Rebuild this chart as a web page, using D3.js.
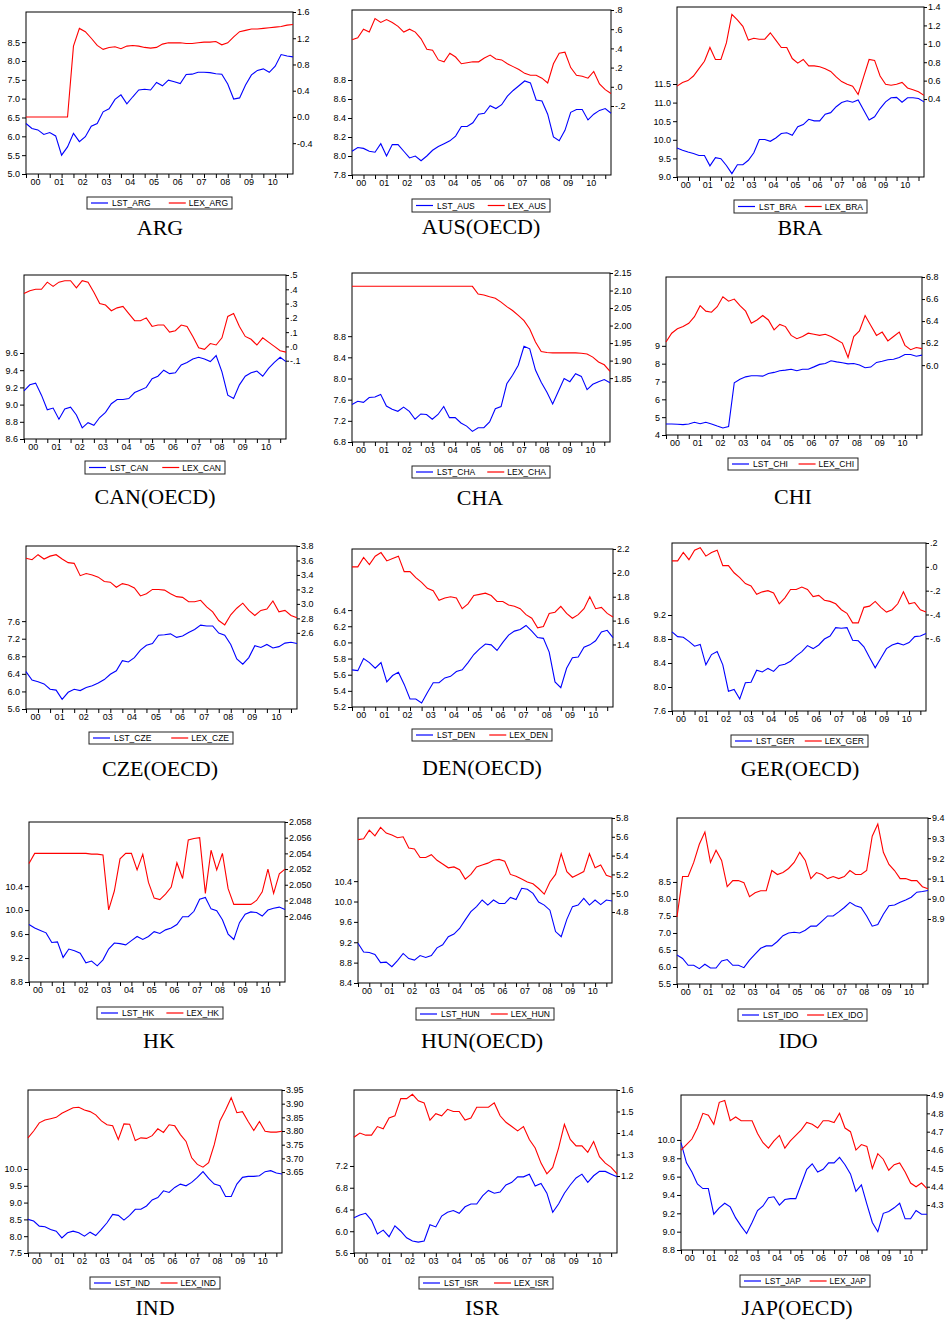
<!DOCTYPE html>
<html>
<head>
<meta charset="utf-8">
<script src="https://cdnjs.cloudflare.com/ajax/libs/d3/7.8.5/d3.min.js"></script>
<style>
  body { margin: 0; background: #fff; }
  svg { display: block; }
  .tick text { font-family: "Liberation Sans", Arial, sans-serif; font-size: 9px; fill: #000; }
</style>
</head>
<body>
<svg id="chart" width="947" height="1322"></svg>
<script>
// quarterly data, 2000Q1 .. 2011Q2
const years = ["00", "01", "02", "03", "04", "05", "06", "07", "08", "09", "10"];

const lstARG = [6.34,6.21,6.17,6.05,6.10,6.01,5.50,5.72,6.08,5.86,5.99,6.27,6.34,6.65,6.73,6.98,7.10,6.86,7.05,7.23,7.25,7.23,7.43,7.34,7.49,7.45,7.40,7.64,7.65,7.70,7.70,7.69,7.66,7.65,7.39,6.99,7.02,7.36,7.63,7.75,7.79,7.70,7.86,8.17,8.13,8.11];
const lexARG = [0,0,0,0,0,0,0,0,1.08,1.35,1.30,1.20,1.09,1.03,1.06,1.07,1.04,1.08,1.09,1.08,1.06,1.05,1.06,1.11,1.13,1.13,1.13,1.12,1.12,1.13,1.14,1.14,1.15,1.10,1.13,1.22,1.30,1.32,1.34,1.34,1.35,1.36,1.37,1.38,1.40,1.41];

const lstAUS = [8.05,8.09,8.08,8.05,8.04,8.13,8.00,8.12,8.12,8.05,7.98,8.00,7.95,8.00,8.06,8.10,8.13,8.16,8.21,8.31,8.31,8.35,8.44,8.45,8.53,8.50,8.54,8.63,8.69,8.74,8.79,8.77,8.59,8.58,8.44,8.20,8.16,8.27,8.46,8.49,8.49,8.38,8.44,8.48,8.50,8.45];
const lexAUS = [0.49,0.51,0.60,0.57,0.71,0.67,0.70,0.67,0.63,0.57,0.60,0.57,0.50,0.39,0.38,0.28,0.26,0.35,0.31,0.24,0.25,0.26,0.26,0.30,0.33,0.29,0.28,0.24,0.21,0.18,0.14,0.12,0.12,0.09,0.04,0.24,0.35,0.36,0.20,0.12,0.11,0.09,0.16,0.03,-0.03,-0.07];

const lstBRA = [9.78,9.72,9.67,9.63,9.58,9.58,9.30,9.52,9.49,9.31,9.09,9.33,9.33,9.45,9.65,10.01,10.01,9.96,10.05,10.17,10.19,10.12,10.35,10.41,10.55,10.51,10.51,10.69,10.73,10.89,11.00,11.05,11.01,11.07,10.80,10.53,10.62,10.84,11.02,11.13,11.14,11.01,11.13,11.13,11.11,11.02];
const lexBRA = [0.54,0.58,0.60,0.65,0.73,0.81,0.96,0.83,0.83,1.01,1.32,1.26,1.19,1.04,1.06,1.05,1.05,1.12,1.04,0.96,0.96,0.84,0.79,0.83,0.76,0.76,0.75,0.73,0.70,0.64,0.59,0.56,0.54,0.45,0.64,0.83,0.82,0.65,0.56,0.55,0.56,0.58,0.52,0.50,0.48,0.44];

const lstCAN = [9.16,9.23,9.25,9.11,8.94,8.96,8.83,8.95,8.97,8.88,8.73,8.79,8.76,8.85,8.91,9.01,9.06,9.06,9.07,9.14,9.17,9.20,9.30,9.33,9.40,9.36,9.37,9.46,9.49,9.53,9.55,9.53,9.50,9.57,9.38,9.11,9.07,9.23,9.33,9.37,9.39,9.33,9.42,9.49,9.55,9.50];
const lexCAN = [0.37,0.39,0.40,0.40,0.45,0.42,0.45,0.46,0.46,0.41,0.46,0.45,0.38,0.30,0.29,0.25,0.27,0.28,0.23,0.18,0.18,0.20,0.14,0.15,0.15,0.10,0.11,0.15,0.14,0.07,-0.01,-0.02,0.02,0.01,0.06,0.21,0.23,0.14,0.07,0.05,0.01,0.06,0.03,0.00,-0.03,-0.04];

const lstCHA = [7.51,7.57,7.55,7.64,7.65,7.70,7.48,7.42,7.38,7.46,7.38,7.23,7.33,7.32,7.23,7.32,7.47,7.26,7.26,7.16,7.10,7.00,7.07,7.07,7.18,7.43,7.47,7.90,8.06,8.25,8.61,8.56,8.16,7.93,7.74,7.52,7.76,8.00,7.94,8.09,8.04,7.79,7.89,7.94,7.98,7.92];
const lexCHA = [2.112,2.112,2.112,2.112,2.112,2.112,2.112,2.112,2.112,2.112,2.112,2.112,2.112,2.112,2.112,2.112,2.112,2.112,2.112,2.112,2.112,2.112,2.090,2.087,2.082,2.078,2.067,2.054,2.043,2.029,2.014,1.990,1.953,1.926,1.923,1.922,1.922,1.922,1.922,1.922,1.921,1.919,1.910,1.896,1.888,1.869];

const lstCHI = [4.62,4.62,4.60,4.58,4.62,4.71,4.63,4.71,4.62,4.50,4.39,4.47,6.93,7.13,7.26,7.32,7.32,7.30,7.45,7.51,7.60,7.64,7.69,7.60,7.69,7.69,7.82,7.96,8.01,8.16,8.10,8.05,7.99,8.01,7.92,7.77,7.81,8.07,8.14,8.22,8.25,8.35,8.51,8.51,8.42,8.48];
const lexCHI = [6.21,6.29,6.33,6.35,6.38,6.44,6.54,6.49,6.48,6.53,6.62,6.58,6.60,6.54,6.49,6.38,6.41,6.45,6.41,6.32,6.37,6.35,6.27,6.24,6.26,6.29,6.28,6.27,6.28,6.26,6.23,6.20,6.07,6.26,6.31,6.45,6.36,6.27,6.30,6.22,6.26,6.30,6.18,6.14,6.16,6.15];

const lstCZE = [6.45,6.26,6.22,6.17,6.05,6.03,5.82,5.98,6.05,6.02,6.09,6.13,6.19,6.27,6.39,6.47,6.70,6.67,6.77,6.94,7.05,7.09,7.28,7.29,7.31,7.23,7.26,7.34,7.41,7.51,7.49,7.49,7.33,7.28,7.07,6.74,6.62,6.77,7.04,7.00,7.07,6.99,7.02,7.10,7.12,7.09];
const lexCZE = [3.63,3.61,3.68,3.62,3.66,3.68,3.62,3.57,3.56,3.39,3.42,3.40,3.37,3.31,3.30,3.23,3.28,3.26,3.22,3.11,3.14,3.20,3.20,3.19,3.14,3.10,3.09,3.03,3.03,3.05,2.96,2.89,2.77,2.71,2.85,2.94,3.01,2.91,2.84,2.91,2.93,3.04,2.89,2.91,2.84,2.81];

const lstDEN = [5.66,5.65,5.80,5.75,5.68,5.75,5.51,5.59,5.63,5.48,5.30,5.30,5.25,5.38,5.50,5.50,5.56,5.58,5.64,5.66,5.75,5.85,5.92,5.98,5.97,5.90,6.00,6.09,6.14,6.16,6.21,6.14,6.06,6.05,5.88,5.51,5.44,5.68,5.81,5.82,5.94,5.97,6.02,6.13,6.15,6.06];
const lexDEN = [2.05,2.05,2.13,2.07,2.14,2.17,2.10,2.12,2.14,2.01,2.01,1.96,1.92,1.87,1.85,1.77,1.79,1.80,1.79,1.70,1.74,1.81,1.82,1.83,1.81,1.76,1.76,1.73,1.72,1.70,1.65,1.62,1.54,1.55,1.66,1.67,1.72,1.66,1.62,1.65,1.70,1.80,1.70,1.71,1.66,1.63];

const lstGER = [8.92,8.84,8.83,8.76,8.68,8.71,8.37,8.54,8.59,8.37,7.93,7.96,7.80,8.07,8.08,8.28,8.25,8.31,8.26,8.36,8.38,8.43,8.52,8.59,8.69,8.64,8.70,8.80,8.85,8.99,8.98,8.99,8.78,8.77,8.67,8.49,8.32,8.48,8.64,8.70,8.73,8.70,8.74,8.84,8.85,8.89];
const lexGER = [0.05,0.05,0.12,0.06,0.14,0.16,0.09,0.12,0.14,0.01,0.01,-0.05,-0.09,-0.14,-0.16,-0.23,-0.21,-0.20,-0.22,-0.31,-0.26,-0.19,-0.19,-0.17,-0.19,-0.25,-0.24,-0.28,-0.29,-0.31,-0.36,-0.39,-0.47,-0.47,-0.34,-0.33,-0.29,-0.34,-0.38,-0.36,-0.31,-0.21,-0.31,-0.30,-0.36,-0.38];

const lstHK = [9.76,9.70,9.66,9.62,9.46,9.47,9.21,9.35,9.32,9.28,9.12,9.15,9.07,9.17,9.35,9.45,9.44,9.42,9.49,9.56,9.51,9.56,9.64,9.61,9.67,9.70,9.76,9.89,9.89,9.98,10.18,10.21,10.02,9.99,9.84,9.60,9.51,9.79,9.93,9.97,9.96,9.90,10.00,10.03,10.05,10.01];
const lexHK = [2.0527,2.0540,2.0540,2.0540,2.0540,2.0540,2.0540,2.0540,2.0540,2.0540,2.0540,2.0539,2.0539,2.0538,2.0468,2.0492,2.0533,2.0540,2.0540,2.0519,2.0539,2.0503,2.0483,2.0481,2.0488,2.0497,2.0528,2.0508,2.0557,2.0559,2.0560,2.0489,2.0544,2.0519,2.0540,2.0495,2.0475,2.0475,2.0475,2.0475,2.0480,2.0491,2.0520,2.0489,2.0514,2.0520];

const lstHUN = [9.18,9.01,9.00,8.96,8.80,8.81,8.72,8.84,8.98,8.88,8.85,8.94,8.90,8.94,9.09,9.15,9.31,9.36,9.47,9.64,9.80,9.90,10.03,9.93,10.03,9.96,9.96,10.08,10.04,10.26,10.24,10.16,9.99,9.93,9.83,9.41,9.31,9.65,9.90,9.93,10.06,9.93,10.03,9.94,10.03,10.01];
const lexHUN = [5.57,5.58,5.67,5.61,5.70,5.64,5.62,5.59,5.60,5.48,5.47,5.38,5.38,5.41,5.35,5.31,5.27,5.28,5.25,5.15,5.20,5.28,5.30,5.32,5.35,5.36,5.34,5.20,5.18,5.15,5.12,5.10,5.05,4.99,5.12,5.20,5.42,5.23,5.17,5.20,5.23,5.42,5.27,5.30,5.19,5.17];

const lstIDO = [6.35,6.25,6.05,6.05,5.95,6.08,5.97,5.97,6.18,6.22,6.05,6.05,5.98,6.20,6.38,6.55,6.62,6.62,6.75,6.92,7.00,7.02,7.00,7.08,7.20,7.20,7.35,7.50,7.50,7.62,7.75,7.90,7.80,7.75,7.50,7.20,7.25,7.55,7.80,7.82,7.90,7.97,8.05,8.20,8.22,8.25];
const lexIDO = [8.91,9.11,9.11,9.18,9.27,9.33,9.18,9.24,9.19,9.06,9.09,9.09,9.08,9.01,9.03,9.04,9.04,9.14,9.12,9.13,9.15,9.18,9.23,9.19,9.10,9.13,9.12,9.10,9.11,9.10,9.11,9.14,9.12,9.12,9.14,9.31,9.37,9.23,9.17,9.14,9.10,9.10,9.09,9.09,9.06,9.05];

const lstIND = [8.50,8.45,8.30,8.28,8.20,8.15,7.95,8.10,8.15,8.10,8.00,8.12,8.02,8.20,8.40,8.65,8.62,8.48,8.62,8.80,8.80,8.90,9.08,9.15,9.35,9.30,9.45,9.55,9.50,9.60,9.75,9.92,9.72,9.55,9.50,9.18,9.18,9.55,9.75,9.78,9.78,9.80,9.92,9.95,9.88,9.85];
const lexIND = [3.775,3.80,3.83,3.84,3.845,3.85,3.865,3.875,3.885,3.887,3.877,3.871,3.859,3.837,3.823,3.819,3.769,3.826,3.825,3.765,3.775,3.773,3.783,3.808,3.795,3.823,3.819,3.787,3.762,3.702,3.678,3.668,3.684,3.75,3.837,3.877,3.922,3.867,3.871,3.835,3.802,3.835,3.799,3.796,3.796,3.799];

const lstISR = [6.25,6.30,6.33,6.20,5.95,6.02,5.90,6.10,6.00,5.88,5.82,5.80,5.82,6.12,6.08,6.28,6.35,6.38,6.33,6.45,6.50,6.50,6.65,6.75,6.70,6.72,6.85,6.90,7.00,7.00,7.05,6.83,6.88,6.70,6.35,6.50,6.70,6.85,6.98,7.05,6.90,7.02,7.10,7.10,7.05,7.00];
const lexISR = [1.38,1.40,1.39,1.39,1.43,1.42,1.47,1.48,1.56,1.56,1.58,1.55,1.54,1.46,1.49,1.48,1.51,1.50,1.50,1.46,1.47,1.52,1.52,1.52,1.54,1.48,1.45,1.43,1.41,1.43,1.37,1.33,1.26,1.21,1.24,1.33,1.44,1.37,1.34,1.34,1.31,1.36,1.29,1.26,1.24,1.21];

const lstJAP = [9.97,9.75,9.65,9.52,9.47,9.47,9.19,9.26,9.31,9.27,9.15,9.06,8.98,9.10,9.23,9.28,9.37,9.38,9.29,9.35,9.36,9.36,9.52,9.68,9.74,9.65,9.68,9.75,9.75,9.81,9.73,9.63,9.44,9.51,9.30,9.10,9.00,9.20,9.22,9.26,9.31,9.14,9.14,9.23,9.19,9.19];
const lexJAP = [4.60,4.63,4.66,4.72,4.80,4.79,4.74,4.86,4.87,4.76,4.78,4.76,4.76,4.76,4.69,4.64,4.61,4.65,4.68,4.61,4.65,4.68,4.71,4.75,4.74,4.72,4.76,4.76,4.75,4.80,4.72,4.70,4.60,4.63,4.62,4.50,4.58,4.55,4.49,4.52,4.53,4.48,4.42,4.40,4.42,4.39];

// layout of the 15 panels: box = [left, top, right, bottom]
const panels = [
  { code: "ARG", title: "ARG", lst: lstARG, lex: lexARG, box: [26, 12, 293, 174],
    left: [5.0, 9.30], lt: [5.0, 5.5, 6.0, 6.5, 7.0, 7.5, 8.0, 8.5], lf: [1, false],
    right: [-0.87, 1.6], rt: [-0.4, 0, 0.4, 0.8, 1.2, 1.6], rf: [1, false],
    legend: [87, 197, 145, 12], tx: 160, ty: 235 },
  { code: "AUS", title: "AUS(OECD)", lst: lstAUS, lex: lexAUS, box: [352, 10, 611, 175],
    left: [7.8, 9.537], lt: [7.8, 8.0, 8.2, 8.4, 8.6, 8.8], lf: [1, false],
    right: [-0.919, 0.8], rt: [-0.2, 0, 0.2, 0.4, 0.6, 0.8], rf: [1, true],
    legend: [412, 199, 138, 13], tx: 481, ty: 234 },
  { code: "BRA", title: "BRA", lst: lstBRA, lex: lexBRA, box: [677, 7, 924, 177],
    left: [9.0, 13.57], lt: [9.0, 9.5, 10.0, 10.5, 11.0, 11.5], lf: [1, false],
    right: [-0.447, 1.4], rt: [0.4, 0.6, 0.8, 1.0, 1.2, 1.4], rf: [1, false],
    legend: [734, 200, 133, 13], tx: 800, ty: 235 },
  { code: "CAN", title: "CAN(OECD)", lst: lstCAN, lex: lexCAN, box: [24, 275, 286, 439],
    left: [8.6, 10.507], lt: [8.6, 8.8, 9.0, 9.2, 9.4, 9.6], lf: [1, false],
    right: [-0.648, 0.5], rt: [-0.1, 0, 0.1, 0.2, 0.3, 0.4, 0.5], rf: [1, true],
    legend: [85, 461, 140, 13], tx: 155, ty: 504 },
  { code: "CHA", title: "CHA", lst: lstCHA, lex: lexCHA, box: [352, 273, 610, 442],
    left: [6.8, 9.994], lt: [6.8, 7.2, 7.6, 8.0, 8.4, 8.8], lf: [1, false],
    right: [1.6677, 2.15], rt: [1.85, 1.9, 1.95, 2.0, 2.05, 2.1, 2.15], rf: [2, false],
    legend: [412, 466, 138, 12], tx: 480, ty: 505 },
  { code: "CHI", title: "CHI", lst: lstCHI, lex: lexCHI, box: [666, 277, 922, 435],
    left: [4, 12.86], lt: [4, 5, 6, 7, 8, 9], lf: [0, false],
    right: [5.366, 6.8], rt: [6.0, 6.2, 6.4, 6.6, 6.8], rf: [1, false],
    legend: [728, 458, 130, 12], tx: 793, ty: 504 },
  { code: "CZE", title: "CZE(OECD)", lst: lstCZE, lex: lexCZE, box: [26, 546, 297, 709],
    left: [5.6, 9.31], lt: [5.6, 6.0, 6.4, 6.8, 7.2, 7.6], lf: [1, false],
    right: [1.548, 3.8], rt: [2.6, 2.8, 3.0, 3.2, 3.4, 3.6, 3.8], rf: [1, false],
    legend: [89, 732, 144, 12], tx: 160, ty: 776 },
  { code: "DEN", title: "DEN(OECD)", lst: lstDEN, lex: lexDEN, box: [352, 549, 613, 707],
    left: [5.2, 7.157], lt: [5.2, 5.4, 5.6, 5.8, 6.0, 6.2, 6.4], lf: [1, false],
    right: [0.876, 2.2], rt: [1.4, 1.6, 1.8, 2.0, 2.2], rf: [1, false],
    legend: [412, 729, 140, 12], tx: 482, ty: 775 },
  { code: "GER", title: "GER(OECD)", lst: lstGER, lex: lexGER, box: [672, 543, 926, 711],
    left: [7.6, 10.40], lt: [7.6, 8.0, 8.4, 8.8, 9.2], lf: [1, false],
    right: [-1.21, 0.2], rt: [-0.6, -0.4, -0.2, 0, 0.2], rf: [1, true],
    legend: [731, 735, 137, 12], tx: 800, ty: 776 },
  { code: "HK", title: "HK", lst: lstHK, lex: lexHK, box: [29, 822, 285, 982],
    left: [8.8, 11.47], lt: [8.8, 9.2, 9.6, 10.0, 10.4], lf: [1, false],
    right: [2.0376, 2.058], rt: [2.046, 2.048, 2.05, 2.052, 2.054, 2.056, 2.058], rf: [3, false],
    legend: [97, 1007, 126, 12], tx: 159, ty: 1048 },
  { code: "HUN", title: "HUN(OECD)", lst: lstHUN, lex: lexHUN, box: [358, 818, 612, 983],
    left: [8.4, 11.64], lt: [8.4, 8.8, 9.2, 9.6, 10.0, 10.4], lf: [1, false],
    right: [4.045, 5.8], rt: [4.8, 5.0, 5.2, 5.4, 5.6, 5.8], rf: [1, false],
    legend: [416, 1008, 138, 12], tx: 482, ty: 1048 },
  { code: "IDO", title: "IDO", lst: lstIDO, lex: lexIDO, box: [677, 818, 928, 984],
    left: [5.5, 10.38], lt: [5.5, 6.0, 6.5, 7.0, 7.5, 8.0, 8.5], lf: [1, false],
    right: [8.578, 9.4], rt: [8.9, 9.0, 9.1, 9.2, 9.3, 9.4], rf: [1, false],
    legend: [738, 1009, 129, 12], tx: 798, ty: 1048 },
  { code: "IND", title: "IND", lst: lstIND, lex: lexIND, box: [28, 1090, 282, 1253],
    left: [7.5, 12.35], lt: [7.5, 8.0, 8.5, 9.0, 9.5, 10.0], lf: [1, false],
    right: [3.354, 3.95], rt: [3.65, 3.7, 3.75, 3.8, 3.85, 3.9, 3.95], rf: [2, false],
    legend: [90, 1277, 130, 12], tx: 155, ty: 1315 },
  { code: "ISR", title: "ISR", lst: lstISR, lex: lexISR, box: [354, 1090, 617, 1253],
    left: [5.6, 8.597], lt: [5.6, 6.0, 6.4, 6.8, 7.2], lf: [1, false],
    right: [0.842, 1.6], rt: [1.2, 1.3, 1.4, 1.5, 1.6], rf: [1, false],
    legend: [419, 1277, 134, 12], tx: 482, ty: 1315 },
  { code: "JAP", title: "JAP(OECD)", lst: lstJAP, lex: lexJAP, box: [681, 1095, 927, 1250],
    left: [8.8, 10.49], lt: [8.8, 9.0, 9.2, 9.4, 9.6, 9.8, 10.0], lf: [1, false],
    right: [4.055, 4.9], rt: [4.3, 4.4, 4.5, 4.6, 4.7, 4.8, 4.9], rf: [1, false],
    legend: [740, 1275, 130, 12], tx: 797, ty: 1315 }
];

const BLUE = "#0000ff", RED = "#ff0000";
const svg = d3.select("#chart");

function fmt(spec) {
  const f = d3.format("." + spec[0] + "f");
  return function (v) {
    let s = f(v).replace("\u2212", "-");
    if (spec[1]) s = s.replace(/^(-?)0\./, "$1.");
    return s;
  };
}

panels.forEach(drawPanel);

function drawPanel(p) {
  const [x0, y0, x1, y1] = p.box;
  const n = p.lst.length;
  const x = d3.scaleLinear().domain([0, n - 1]).range([x0, x1]);
  const yl = d3.scaleLinear().domain(p.left).range([y1, y0]);
  const yr = d3.scaleLinear().domain(p.right).range([y1, y0]);
  const g = svg.append("g").attr("class", "panel-" + p.code);

  // left axis
  g.append("g")
    .attr("transform", "translate(" + x0 + ",0)")
    .call(d3.axisLeft(yl).tickValues(p.lt).tickFormat(fmt(p.lf)).tickSize(4).tickPadding(2))
    .call(a => a.select(".domain").remove());

  // right axis
  g.append("g")
    .attr("transform", "translate(" + x1 + ",0)")
    .call(d3.axisRight(yr).tickValues(p.rt).tickFormat(fmt(p.rf)).tickSize(3).tickPadding(1))
    .call(a => a.select(".domain").remove());

  // bottom ticks every half year
  const halfYears = d3.range(0, n, 2);
  g.append("g")
    .attr("transform", "translate(0," + y1 + ")")
    .call(d3.axisBottom(x).tickValues(halfYears).tickFormat("").tickSize(4))
    .call(a => a.select(".domain").remove());

  // year labels centred in each year
  g.append("g")
    .attr("transform", "translate(0," + y1 + ")")
    .call(d3.axisBottom(x).tickValues(years.map((d, i) => i * 4 + 1.5))
      .tickFormat((d, i) => years[i]).tickSize(0).tickPadding(5))
    .call(a => a.select(".domain").remove());

  // frame
  g.append("rect")
    .attr("x", x0).attr("y", y0)
    .attr("width", x1 - x0).attr("height", y1 - y0)
    .attr("fill", "none").attr("stroke", "#000").attr("stroke-width", 1);

  const lineL = d3.line().x((d, i) => x(i)).y(d => yl(d));
  const lineR = d3.line().x((d, i) => x(i)).y(d => yr(d));

  g.append("path").datum(p.lst)
    .attr("d", lineL).attr("fill", "none")
    .attr("stroke", BLUE).attr("stroke-width", 1.1);

  g.append("path").datum(p.lex)
    .attr("d", lineR).attr("fill", "none")
    .attr("stroke", RED).attr("stroke-width", 1.1);

  // legend: blue item from the left, red item ending at the right edge
  const [lx, ly, lw, lh] = p.legend;
  const lg = g.append("g").attr("class", "legend");
  lg.append("rect")
    .attr("x", lx).attr("y", ly).attr("width", lw).attr("height", lh)
    .attr("fill", "#fff").attr("stroke", "#222").attr("stroke-width", 1);
  const cy = ly + lh / 2;
  const fs = 8.5;
  lg.append("line").attr("x1", lx + 4).attr("x2", lx + 21).attr("y1", cy).attr("y2", cy)
    .attr("stroke", BLUE).attr("stroke-width", 1.2);
  lg.append("text").attr("x", lx + 25).attr("y", cy + 3)
    .attr("font-family", "Liberation Sans, Arial, sans-serif").attr("font-size", fs)
    .text("LST_" + p.code);
  const t2 = lg.append("text").attr("x", lx + lw - 4).attr("y", cy + 3)
    .attr("text-anchor", "end")
    .attr("font-family", "Liberation Sans, Arial, sans-serif").attr("font-size", fs)
    .text("LEX_" + p.code);
  const w2 = t2.node().getComputedTextLength();
  const rx = lx + lw - 4 - w2 - 3;
  lg.append("line").attr("x1", rx - 17).attr("x2", rx).attr("y1", cy).attr("y2", cy)
    .attr("stroke", RED).attr("stroke-width", 1.2);

  // caption
  g.append("text")
    .attr("x", p.tx).attr("y", p.ty)
    .attr("text-anchor", "middle")
    .attr("font-family", "Liberation Serif, Times New Roman, serif")
    .attr("font-size", 22)
    .text(p.title);
}
</script>
</body>
</html>
